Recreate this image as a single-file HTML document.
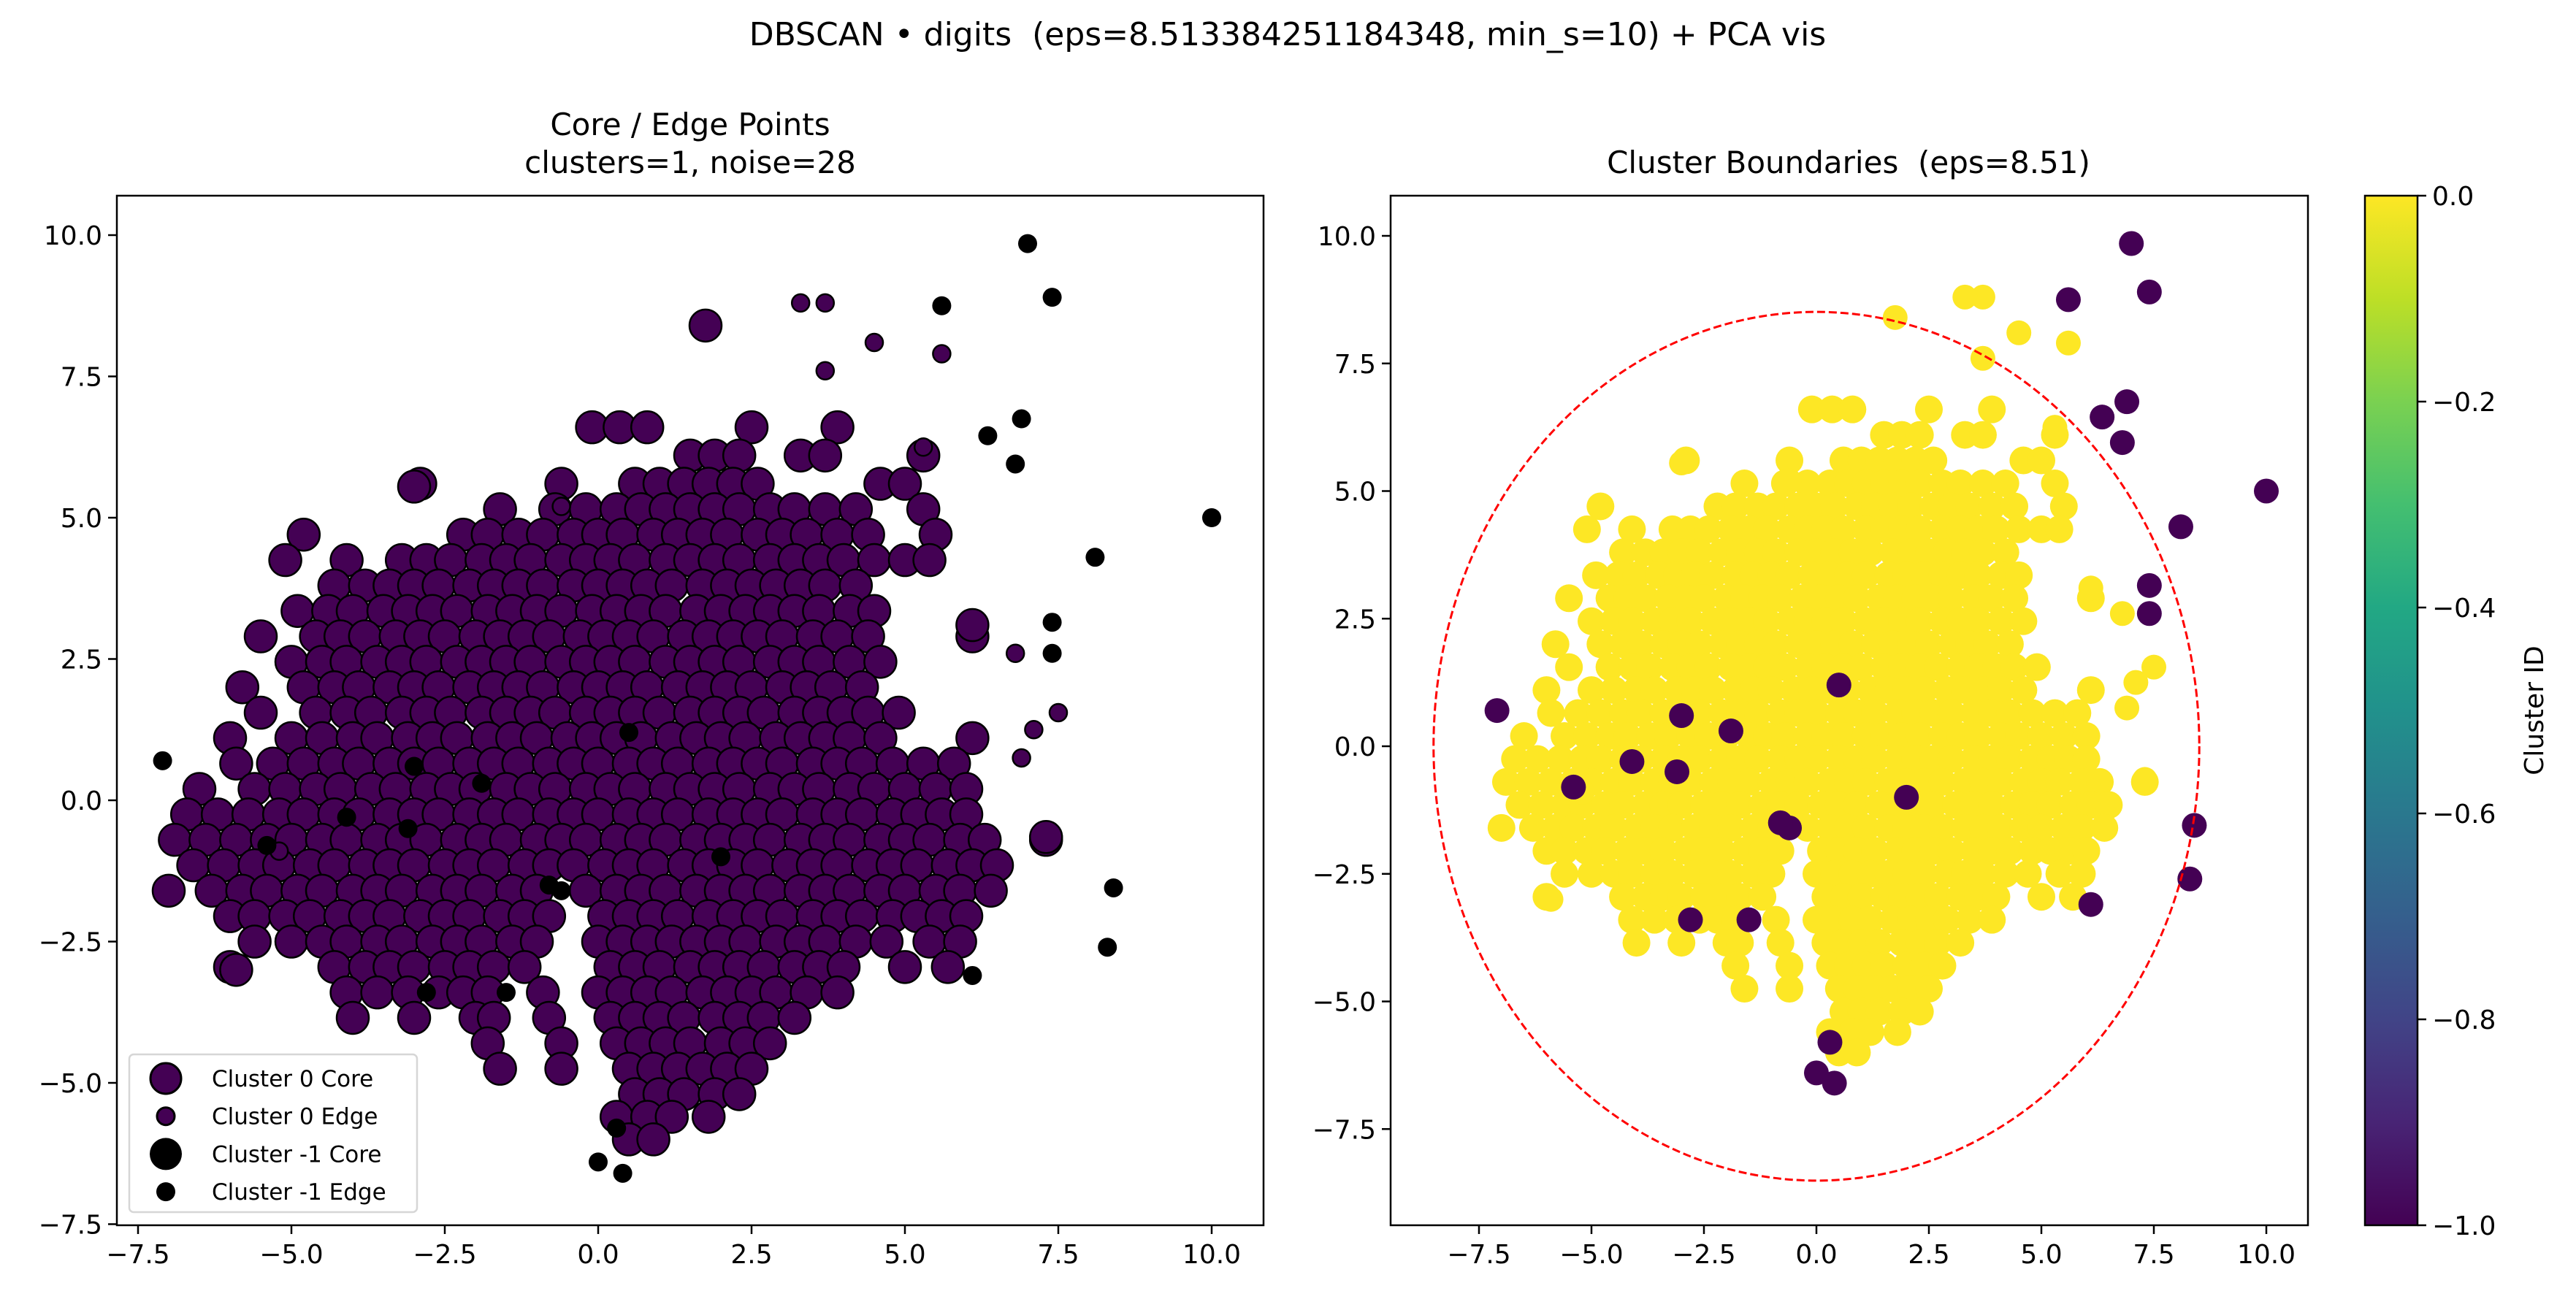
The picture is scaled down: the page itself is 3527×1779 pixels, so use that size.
<!DOCTYPE html>
<html><head><meta charset="utf-8"><style>
html,body{margin:0;padding:0;background:#fff}
svg{display:block;font-family:"DejaVu Sans","Liberation Sans",sans-serif}
text{white-space:pre}
</style></head><body>
<svg id="fig" width="3527" height="1779" viewBox="0 0 3527 1779" xmlns="http://www.w3.org/2000/svg" xml:space="preserve">
<defs>
<linearGradient id="viridis" x1="0" y1="1" x2="0" y2="0">
<stop offset="0" stop-color="#440154"/><stop offset="0.1" stop-color="#482475"/><stop offset="0.2" stop-color="#414487"/><stop offset="0.3" stop-color="#355f8d"/><stop offset="0.4" stop-color="#2a788e"/><stop offset="0.5" stop-color="#21918c"/><stop offset="0.6" stop-color="#22a884"/><stop offset="0.7" stop-color="#44bf70"/><stop offset="0.8" stop-color="#7ad151"/><stop offset="0.9" stop-color="#bddf26"/><stop offset="1" stop-color="#fde725"/>
</linearGradient>
<clipPath id="clipL"><rect x="160" y="268" width="1570" height="1410"/></clipPath>
<clipPath id="clipR"><rect x="1904" y="268" width="1256" height="1410"/></clipPath>
</defs>
<rect width="3527" height="1779" fill="#fff"/>
<text x="1763" y="62" font-size="44" text-anchor="middle">DBSCAN • digits  (eps=8.513384251184348, min_s=10) + PCA vis</text>
<text x="945" y="185" font-size="42" text-anchor="middle">Core / Edge Points</text>
<text x="945" y="237" font-size="42" text-anchor="middle">clusters=1, noise=28</text>
<text x="2531" y="237" font-size="42" text-anchor="middle">Cluster Boundaries  (eps=8.51)</text>
<g id="gL"></g>
<g id="gR"></g>
<g id="gC"></g>
</svg>
<script>
// ---- data ----
const rowY = [6.6,6.1,5.6,5.15,4.7,4.25,3.8,3.35,2.9,2.45,2.0,1.55,1.1,0.65,0.2,-0.25,-0.7,-1.15,-1.6,-2.05,-2.5,-2.95,-3.4,-3.85,-4.3,-4.75,-5.2,-5.6,-6.0];
const rowX = [
[-0.1,0.35,0.8,2.5,3.9],
[1.5,1.9,2.3,3.3,3.7,5.3],
[-2.9,-0.6,0.6,1.0,1.4,1.8,2.2,2.6,4.6,5.0],
[-1.6,-0.7,-0.2,0.3,0.7,1.1,1.5,1.9,2.3,2.8,3.2,3.7,4.2,5.3],
[-4.8,-2.2,-1.8,-1.3,-0.9,-0.4,0.0,0.4,0.9,1.3,1.7,2.1,2.6,3.0,3.4,3.9,4.4,5.5],
[-5.1,-4.1,-3.2,-2.8,-2.4,-1.9,-1.5,-1.1,-0.6,-0.2,0.2,0.6,1.1,1.5,1.9,2.3,2.8,3.2,3.6,4.0,4.5,5.0,5.4],
[-4.3,-3.8,-3.4,-3.0,-2.6,-2.1,-1.7,-1.3,-0.9,-0.4,0.0,0.4,0.8,1.2,1.7,2.1,2.5,2.9,3.3,3.7,4.2],
[-4.9,-4.4,-4.0,-3.5,-3.1,-2.7,-2.3,-1.8,-1.4,-1.0,-0.6,-0.1,0.3,0.7,1.1,1.6,2.0,2.4,2.8,3.2,3.6,4.1,4.5],
[-5.5,-4.6,-4.2,-3.8,-3.3,-2.9,-2.5,-2.0,-1.6,-1.2,-0.8,-0.3,0.1,0.5,0.9,1.4,1.8,2.2,2.6,3.0,3.5,3.9,4.4,6.1],
[-5.0,-4.5,-4.1,-3.6,-3.2,-2.8,-2.3,-1.9,-1.5,-1.1,-0.6,-0.2,0.2,0.6,1.1,1.5,1.9,2.3,2.8,3.2,3.6,4.1,4.6],
[-5.8,-4.8,-4.3,-3.9,-3.4,-3.0,-2.6,-2.1,-1.7,-1.3,-0.9,-0.4,0.0,0.4,0.8,1.3,1.7,2.1,2.5,3.0,3.4,3.8,4.3],
[-5.5,-4.6,-4.1,-3.7,-3.2,-2.8,-2.4,-1.9,-1.5,-1.1,-0.7,-0.2,0.2,0.6,1.0,1.5,1.9,2.3,2.7,3.2,3.6,4.0,4.4,4.9],
[-6.0,-5.0,-4.5,-4.0,-3.6,-3.1,-2.7,-2.3,-1.8,-1.4,-1.0,-0.5,-0.1,0.3,0.7,1.2,1.6,2.0,2.4,2.9,3.3,3.7,4.1,4.6,6.1],
[-5.9,-5.3,-4.8,-4.3,-3.9,-3.4,-3.0,-2.6,-2.1,-1.7,-1.3,-0.8,-0.4,0.0,0.5,0.9,1.3,1.8,2.2,2.6,3.0,3.5,3.9,4.3,4.8,5.3,5.8],
[-6.5,-5.6,-5.1,-4.6,-4.2,-3.7,-3.3,-2.8,-2.4,-2.0,-1.5,-1.1,-0.7,-0.2,0.2,0.6,1.1,1.5,1.9,2.3,2.8,3.2,3.6,4.1,4.5,5.0,5.5,6.0],
[-6.7,-6.2,-5.7,-5.2,-4.8,-4.3,-3.9,-3.4,-3.0,-2.6,-2.1,-1.7,-1.3,-0.8,-0.4,0.0,0.5,0.9,1.3,1.8,2.2,2.6,3.0,3.5,3.9,4.3,4.8,5.2,5.6,6.0],
[-6.9,-6.4,-5.9,-5.4,-5.0,-4.5,-4.1,-3.6,-3.2,-2.8,-2.3,-1.9,-1.5,-1.0,-0.6,-0.2,0.3,0.7,1.1,1.6,2.0,2.4,2.8,3.3,3.7,4.1,4.6,5.0,5.4,5.9,6.3,7.3],
[-6.6,-6.1,-5.6,-5.2,-4.7,-4.3,-3.8,-3.4,-3.0,-2.5,-2.1,-1.7,-1.2,-0.8,-0.4,0.1,0.5,0.9,1.4,1.8,2.2,2.6,3.1,3.5,3.9,4.4,4.8,5.2,5.7,6.1,6.5],
[-7.0,-6.3,-5.8,-5.4,-4.9,-4.5,-4.0,-3.6,-3.2,-2.7,-2.3,-1.9,-1.4,-1.0,-0.2,0.3,0.7,1.1,1.6,2.0,2.4,2.8,3.3,3.7,4.1,4.6,5.0,5.5,5.9,6.4],
[-6.0,-5.6,-5.1,-4.7,-4.2,-3.8,-3.4,-2.9,-2.5,-2.1,-1.6,-1.2,-0.8,0.1,0.5,0.9,1.3,1.8,2.2,2.6,3.0,3.5,3.9,4.3,4.8,5.2,5.6,6.0],
[-5.6,-5.0,-4.5,-4.1,-3.6,-3.2,-2.7,-2.3,-1.9,-1.4,-1.0,0.0,0.4,0.8,1.2,1.6,2.0,2.4,2.9,3.3,3.7,4.2,4.7,5.4,5.9],
[-6.0,-4.3,-3.8,-3.4,-3.0,-2.5,-2.1,-1.7,-1.2,0.2,0.6,1.0,1.5,1.9,2.3,2.7,3.2,3.6,4.0,5.0,5.7],
[-4.1,-3.6,-3.1,-2.6,-2.2,-1.8,-0.9,0.0,0.4,0.8,1.2,1.7,2.1,2.5,2.9,3.4,3.9],
[-4.0,-3.0,-2.0,-1.7,-0.8,0.2,0.6,1.0,1.4,1.9,2.3,2.7,3.2],
[-1.8,-0.6,0.3,0.7,1.1,1.5,2.0,2.4,2.8],
[-1.6,-0.6,0.5,0.9,1.3,1.7,2.1,2.5],
[0.6,1.0,1.4,1.9,2.3],
[0.3,0.8,1.2,1.8],
[0.5,0.9]
];
const extraCoreX = [1.75,-3.0,6.1,-5.9,7.3];
const extraCoreY = [8.4,5.55,3.1,-3.0,-0.65];
const edgeX = [3.7,3.7,4.5,5.6,5.3,6.8,7.5,7.1,-0.6,-5.2,6.9,3.3];
const edgeY = [8.8,7.6,8.1,7.9,6.25,2.6,1.55,1.25,5.2,-0.9,0.75,8.8];
const noiseX = [7.0,7.4,5.6,6.35,6.9,6.8,10.0,8.1,7.4,7.4,-7.1,8.4,8.3,6.1,-1.5,0.3,0.0,0.4,-0.6,-3.0,-4.1,0.5,-5.4,-3.1,-0.8,2.0,-1.9,-2.8];
const noiseY = [9.85,8.9,8.75,6.45,6.75,5.95,5.0,4.3,3.15,2.6,0.7,-1.55,-2.6,-3.1,-3.4,-5.8,-6.4,-6.6,-1.6,0.6,-0.3,1.2,-0.8,-0.5,-1.5,-1.0,0.3,-3.4];
const xTicks = [-7.5,-5.0,-2.5,0.0,2.5,5.0,7.5,10.0];
const yTicks = [-7.5,-5.0,-2.5,0.0,2.5,5.0,7.5,10.0];
const cbTicks = [0.0,-0.2,-0.4,-0.6,-0.8,-1.0];
const epsValue = 8.51;

// ---- axes ----
const NS='http://www.w3.org/2000/svg';
function mk(tag,attrs,parent){const e=document.createElementNS(NS,tag);for(const k in attrs)e.setAttribute(k,attrs[k]);parent.appendChild(e);return e;}
const L={x0:160,x1:1730,y0:268,y1:1678,sx:v=>819+v*84,sy:v=>1096-v*77.4};
const R={x0:1904,x1:3160,y0:268,y1:1678,sx:v=>2487+v*61.6,sy:v=>1022-v*69.9};
function fmt(v){return (v<0?'\u2212':'')+Math.abs(v).toFixed(1);}
function axes(A,g,pre){
  for(const t of xTicks){const px=A.sx(t);
    const l=mk('line',{x1:px,x2:px,y1:A.y1,y2:A.y1+12,stroke:'#000','stroke-width':2.5},g);
    
    const tx=mk('text',{x:px,y:A.y1+52,'font-size':36,'text-anchor':'middle'},g);tx.textContent=fmt(t);
    }
  for(const t of yTicks){const py=A.sy(t);if(py<A.y0-1||py>A.y1+1)continue;
    const l=mk('line',{x1:A.x0-12,x2:A.x0,y1:py,y2:py,stroke:'#000','stroke-width':2.5},g);
    
    const tx=mk('text',{x:A.x0-20,y:py+13,'font-size':36,'text-anchor':'end'},g);tx.textContent=fmt(t);
    }
  const fr=mk('rect',{x:A.x0,y:A.y0,width:A.x1-A.x0,height:A.y1-A.y0,fill:'none',stroke:'#000','stroke-width':2.5},g);
  
}
const gL=document.getElementById('gL'),gR=document.getElementById('gR'),gC=document.getElementById('gC');
const pL=mk('g',{'clip-path':'url(#clipL)'},gL);

function dot(g,A,x,y,r,fill,stroke,name){const c=mk('circle',{cx:A.sx(x),cy:A.sy(y),r:r,fill:fill},g);
  if(stroke){c.setAttribute('stroke',stroke);c.setAttribute('stroke-width',2.5);}
  }
for(let i=0;i<rowY.length;i++)for(const x of rowX[i])dot(pL,L,x,rowY[i],22,'#440154','#000','cluster0-core-point');
for(let i=0;i<extraCoreX.length;i++)dot(pL,L,extraCoreX[i],extraCoreY[i],22,'#440154','#000','cluster0-core-point');
for(let i=0;i<edgeX.length;i++)dot(pL,L,edgeX[i],edgeY[i],12,'#440154','#000','cluster0-edge-point');
for(let i=0;i<noiseX.length;i++)dot(pL,L,noiseX[i],noiseY[i],13,'#000',null,'noise-point');
axes(L,gL,'left');
const lg=mk('g',{},gL);
const lb=mk('rect',{x:177,y:1444,width:394,height:216,rx:6,fill:'#fff','fill-opacity':0.8,stroke:'#d6d6d6','stroke-width':2.5},lg);

const legItems=[['Cluster 0 Core',21,'#440154','#000'],['Cluster 0 Edge',12,'#440154','#000'],['Cluster -1 Core',22,'#000',null],['Cluster -1 Edge',13,'#000',null]];
legItems.forEach((it,i)=>{const y=1477+i*51.7;
  const c=mk('circle',{cx:227,cy:y,r:it[1],fill:it[2]},lg);if(it[3]){c.setAttribute('stroke',it[3]);c.setAttribute('stroke-width',3);}
  
  const t=mk('text',{x:290,y:y+11,'font-size':31},lg);t.textContent=it[0];
  });
const pR=mk('g',{'clip-path':'url(#clipR)'},gR);

for(let i=0;i<rowY.length;i++)for(const x of rowX[i])dot(pR,R,x,rowY[i],19,'#fde725',null,'cluster0-point');
for(let i=0;i<extraCoreX.length;i++)dot(pR,R,extraCoreX[i],extraCoreY[i],17,'#fde725',null,'cluster0-point');
for(let i=0;i<edgeX.length;i++)dot(pR,R,edgeX[i],edgeY[i],17,'#fde725',null,'cluster0-point');
for(let i=0;i<noiseX.length;i++)dot(pR,R,noiseX[i],noiseY[i],17,'#440154',null,'noise-point');
const el=mk('ellipse',{cx:R.sx(0),cy:R.sy(0),rx:R.sx(epsValue)-R.sx(0),ry:R.sy(0)-R.sy(epsValue),fill:'none',stroke:'#ff0000','stroke-width':3,'stroke-dasharray':'11,5'},pR);

axes(R,gR,'right');
const cb={x0:3238,x1:3310,y0:268,y1:1678,sy:v=>268+(0-v)*1410};
const cr=mk('rect',{x:cb.x0,y:cb.y0,width:cb.x1-cb.x0,height:cb.y1-cb.y0,fill:'url(#viridis)',stroke:'#000','stroke-width':2.5},gC);

for(const t of cbTicks){const py=cb.sy(t);
  const l=mk('line',{x1:cb.x1,x2:cb.x1+12,y1:py,y2:py,stroke:'#000','stroke-width':2.5},gC);
  
  const tx=mk('text',{x:cb.x1+20,y:py+13,'font-size':36},gC);tx.textContent=fmt(t);
  }
const cl=mk('text',{x:3482,y:973,'font-size':36,'text-anchor':'middle',transform:'rotate(-90 3482 973)'},gC);
cl.textContent='Cluster ID';

</script>
</body></html>
